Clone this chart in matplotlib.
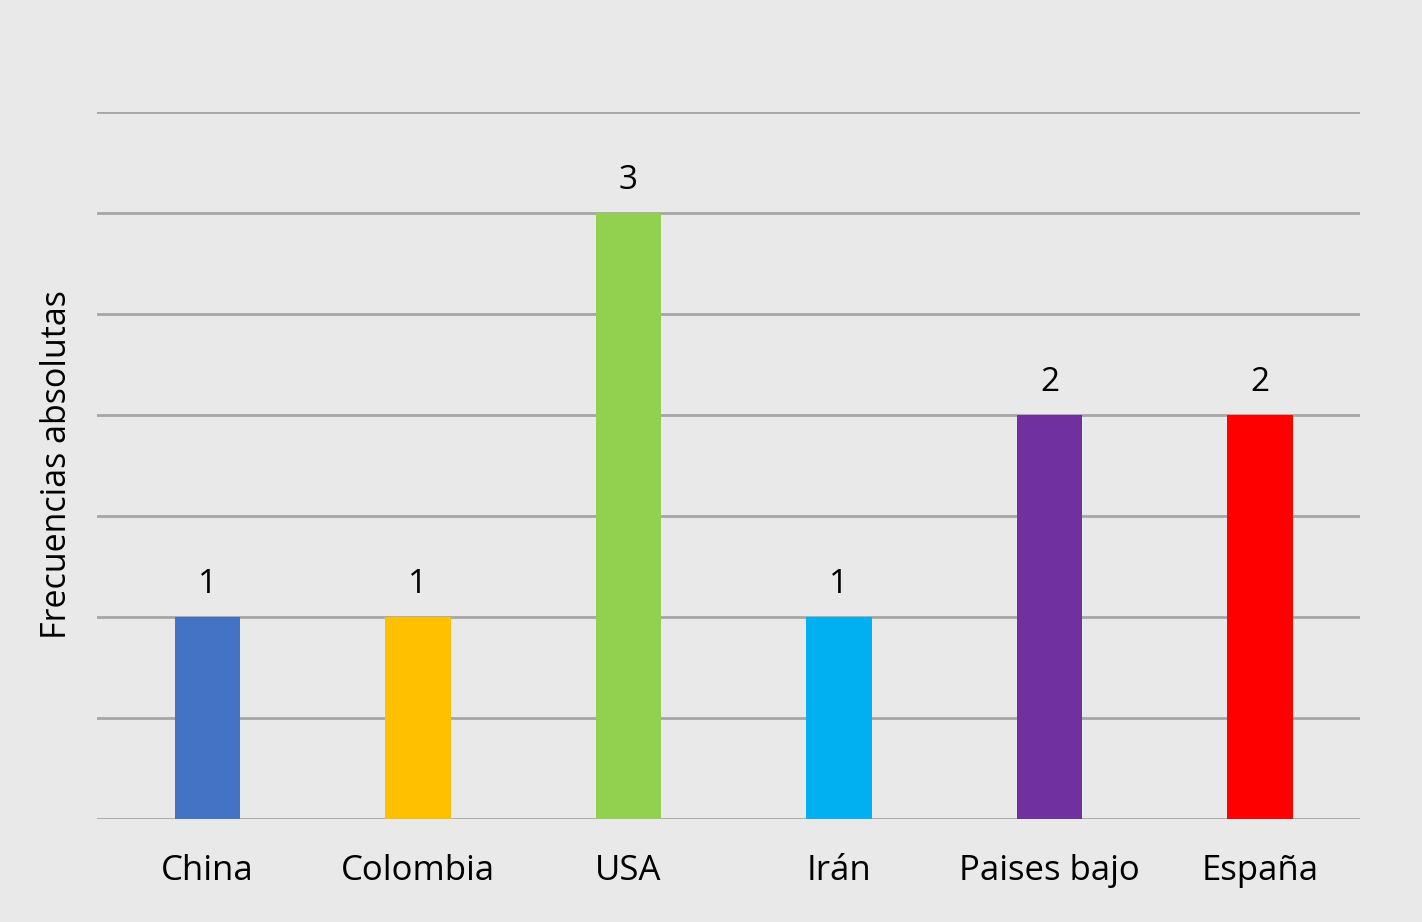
import matplotlib
matplotlib.use("Agg")
import matplotlib.pyplot as plt

categories = ["China", "Colombia", "USA", "Irán", "Paises bajo", "España"]
values = [1, 1, 3, 1, 2, 2]
colors = ["#4472c4", "#ffc000", "#92d050", "#00b0f0", "#7030a0", "#ff0000"]
ylabel = "Frecuencias absolutas"

bg = "#e9e9e9"
plt.rcParams['font.family'] = ['Open Sans', 'DejaVu Sans']

fig = plt.figure(figsize=(14.22, 9.22), dpi=100, facecolor=bg)
ax = fig.add_axes([97/1422, 103/922, (1360-97)/1422, 707/922])
ax.set_facecolor(bg)

x = list(range(len(categories)))
ax.bar(x, values, width=0.31, color=colors, zorder=3)
for xi, v in zip(x, values):
    ax.text(xi, v + 0.08, str(v), ha='center', va='bottom', fontsize=24, color='black')

ax.set_xlim(-0.525, len(categories) - 0.525)
ax.set_ylim(0, 3.5)
ax.set_yticks([i * 0.5 for i in range(8)])
ax.yaxis.grid(True, color="#a6a6a6", linewidth=2, zorder=0)
ax.tick_params(axis='y', left=False, labelleft=False)
ax.tick_params(axis='x', bottom=False, pad=22)
ax.set_xticks(x)
ax.set_xticklabels(categories, fontsize=25)
for s in ax.spines.values():
    s.set_visible(False)

fig.text(57/1422, 1 - 465/922, ylabel, rotation=90, ha='center', va='center', fontsize=24.5)

fig.savefig("out.png", dpi=100, facecolor=bg)
